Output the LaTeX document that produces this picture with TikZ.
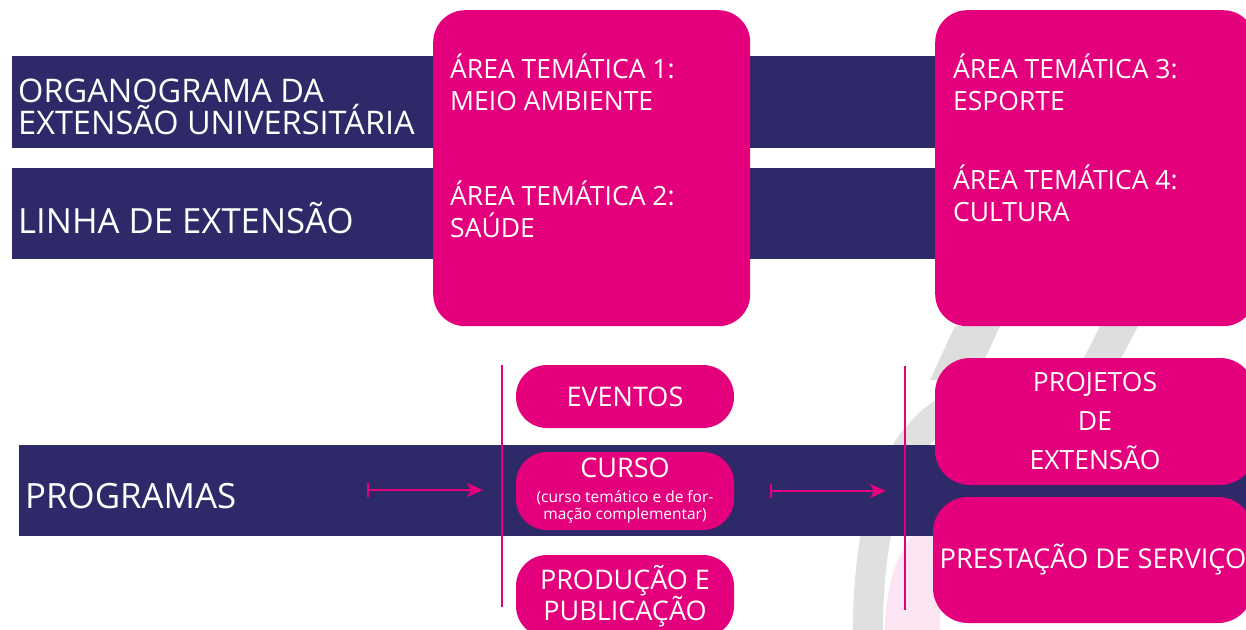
\documentclass[tikz,border=0pt]{standalone}
\usepackage{fontspec}
\setmainfont{Open Sans}
\usetikzlibrary{arrows.meta}
\definecolor{navy}{RGB}{46,42,105}
\definecolor{rosa}{RGB}{228,0,124}
\newcommand{\miudo}{\fontsize{15.5}{18}\selectfont}

\begin{document}
\begin{tikzpicture}[x=1pt,y=-1pt,
    bar/.style={fill=navy,inner sep=0,anchor=north west},
    card/.style={fill=rosa,rounded corners=32pt,inner sep=0,anchor=north west},
    pill/.style={fill=rosa,rounded corners=31pt,inner sep=0,text=white,align=center,font=\fontsize{27}{30}\selectfont},
    txt/.style={text=white,inner sep=0,anchor=base west,align=left},
    area/.style={txt,font=\fontsize{26.5}{32}\selectfont},
    seta/.style={rosa,line width=2pt,{Bar[width=14pt]}-{Stealth[length=16pt,width=14pt,inset=4pt]}},
    risco/.style={rosa,line width=2.5pt}]
        \useasboundingbox (0,0) rectangle (1246,629);
        \clip (0,0) rectangle (1246,629);
        % marca d'agua
        \fill[rosa!10] (884,640) .. controls (886,570) and (902,535) .. (940,512) -- (940,640) -- cycle;
        \draw[black!12,line width=30pt] (868,650) .. controls (866,540) and (885,450) .. (945,412);
        \fill[black!13] (955,326) -- (1000,326) -- (975,380) -- (930,380) -- cycle;
        \fill[black!13] (1100,326) -- (1138,326) -- (1115,370) -- (1078,370) -- cycle;
        % faixas
        \node[bar,minimum width=1240pt,minimum height=92pt] (org) at (12,56) {};
        \node[bar,minimum width=1240pt,minimum height=91pt] (linha) at (12,168) {};
        \node[bar,minimum width=1230pt,minimum height=91pt] (prog) at (19,445) {};
        \node[txt,font=\fontsize{32.5}{32}\selectfont] (torg) at (18,134) {ORGANOGRAMA DA\\EXTENSÃO UNIVERSITÁRIA};
        \node[txt,font=\fontsize{34.7}{34}\selectfont] (tlinha) at (18,233) {LINHA DE EXTENSÃO};
        \node[txt,font=\fontsize{34.8}{34}\selectfont] (tprog) at (25,508) {PROGRAMAS};
        % areas tematicas
        \node[card,minimum width=317pt,minimum height=316pt] (c1) at (433,10) {};
        \node[card,minimum width=320pt,minimum height=316pt] (c2) at (935,10) {};
        \node[area] (a1) at (450,110) {ÁREA TEMÁTICA 1:\\MEIO AMBIENTE};
        \node[area] (a2) at (450,237) {ÁREA TEMÁTICA 2:\\SAÚDE};
        \node[area] (a3) at (953,110) {ÁREA TEMÁTICA 3:\\ESPORTE};
        \node[area] (a4) at (953,221) {ÁREA TEMÁTICA 4:\\CULTURA};
        % programas
        \node[pill,minimum width=218pt,minimum height=63pt] (eventos) at (625,396.5) {EVENTOS};
        \node[pill,minimum width=218pt,minimum height=78pt] (curso) at (625,491) {CURSO\\[-5pt]\miudo (curso temático e de for-\\[-13pt]\miudo mação complementar)};
        \node[pill,minimum width=218pt,minimum height=82pt] (prod) at (625,596) {PRODUÇÃO E\\PUBLICAÇÃO};
        \node[pill,rounded corners=35pt,minimum width=320pt,minimum height=127pt,font=\fontsize{26.5}{39}\selectfont] (proj) at (1095,421.5) {PROJETOS\\DE\\EXTENSÃO};
        \node[pill,rounded corners=35pt,minimum width=320pt,minimum height=126pt,font=\fontsize{27.3}{30}\selectfont] (prest) at (1093,560) {PRESTAÇÃO DE SERVIÇO};
        % setas e divisores
        \coordinate (s1) at (367,490);
        \coordinate (e1) at (483,490);
        \coordinate (s2) at (770,491);
        \coordinate (e2) at (886,491);
        \coordinate (v1) at (502,365);
        \coordinate (w1) at (502,607);
        \coordinate (v2) at (905,366);
        \coordinate (w2) at (905,610);
        \draw[seta] (s1) -- (e1);
        \draw[seta] (s2) -- (e2);
        \draw[risco] (v1) -- (w1) (v2) -- (w2);
      \end{tikzpicture}
\end{document}
